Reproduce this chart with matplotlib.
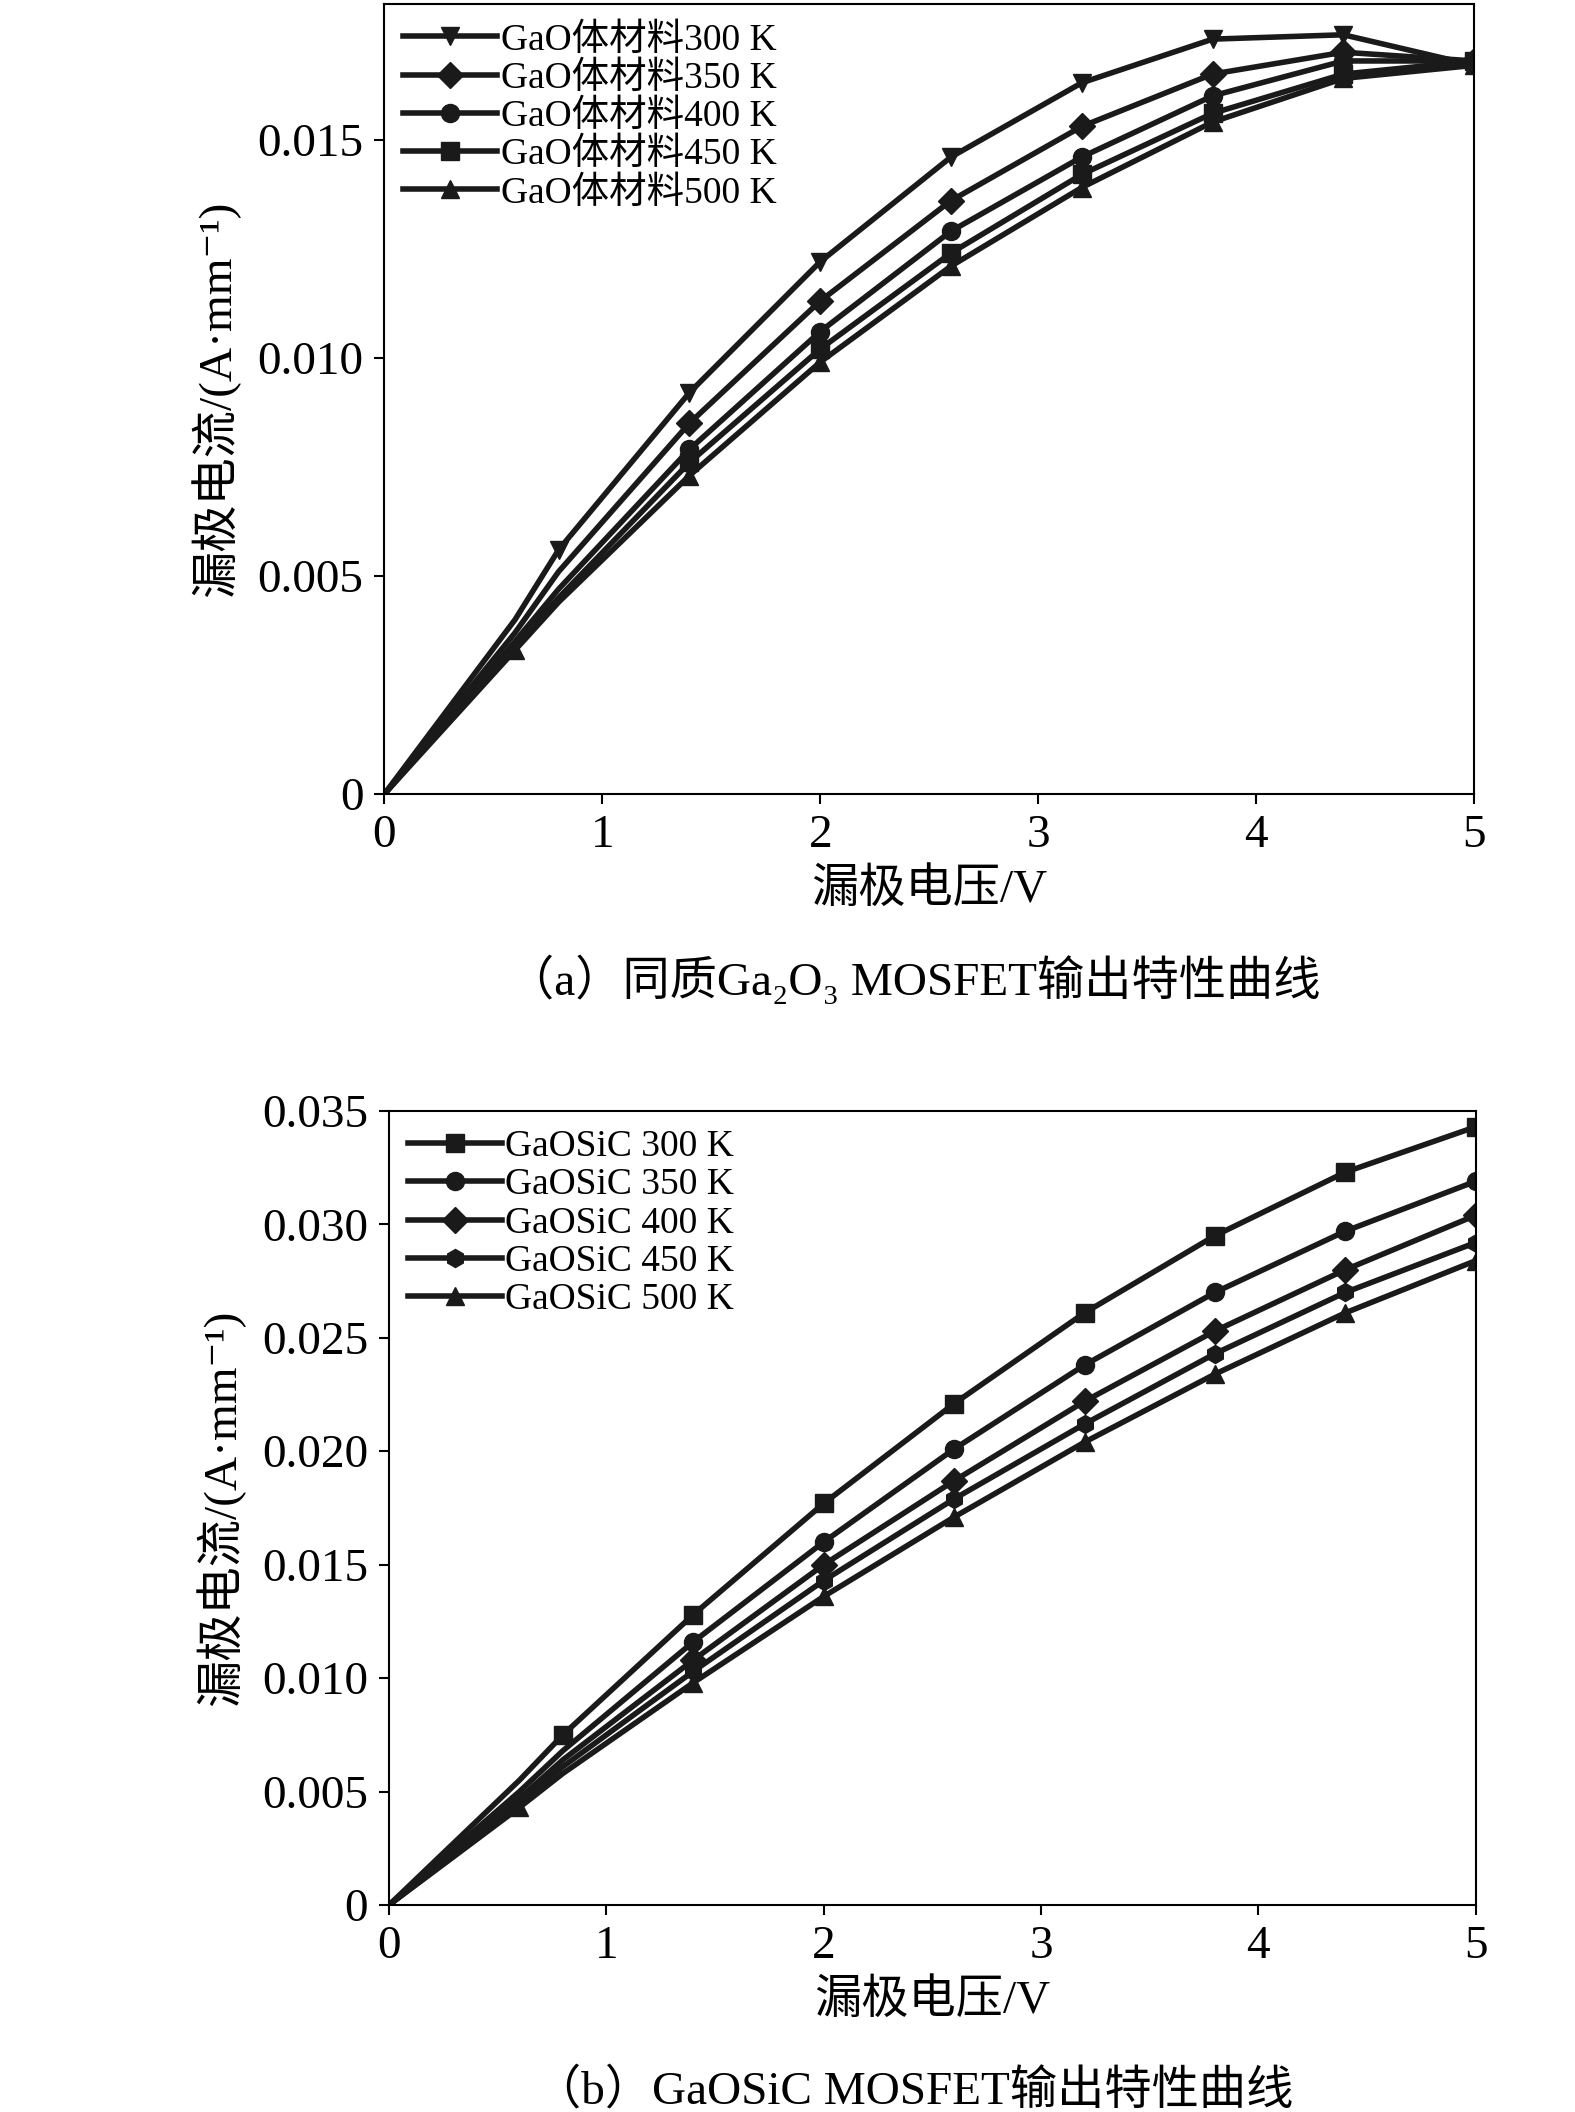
import matplotlib
matplotlib.use("Agg")
import matplotlib.pyplot as plt

plt.rcParams['font.family'] = ['Liberation Serif', 'Noto Sans CJK SC', 'DejaVu Serif']

xa = [0, 0.6, 0.8, 1.4, 2.0, 2.6, 3.2, 3.8, 4.4, 5.0]
labels_a = ["GaO体材料300 K", "GaO体材料350 K", "GaO体材料400 K", "GaO体材料450 K", "GaO体材料500 K"]
a300 = [0, 0.0040, 0.0056, 0.0092, 0.0122, 0.0146, 0.0163, 0.0173, 0.0174, 0.0167]
a350 = [0, 0.0037, 0.0051, 0.0085, 0.0113, 0.0136, 0.0153, 0.0165, 0.0170, 0.0168]
a400 = [0, 0.0035, 0.0047, 0.0079, 0.0106, 0.0129, 0.0146, 0.0160, 0.0168, 0.0168]
a450 = [0, 0.0034, 0.0045, 0.0076, 0.0102, 0.0124, 0.0142, 0.0156, 0.0165, 0.0168]
a500 = [0, 0.0033, 0.0044, 0.0073, 0.0099, 0.0121, 0.0139, 0.0154, 0.0164, 0.0167]
markers_a = ['v', 'D', 'o', 's', '^']

labels_b = ["GaOSiC 300 K", "GaOSiC 350 K", "GaOSiC 400 K", "GaOSiC 450 K", "GaOSiC 500 K"]
b300 = [0, 0.0055, 0.0075, 0.0128, 0.0177, 0.0221, 0.0261, 0.0295, 0.0323, 0.0343]
b350 = [0, 0.0050, 0.0068, 0.0116, 0.0160, 0.0201, 0.0238, 0.0270, 0.0297, 0.0319]
b400 = [0, 0.0047, 0.0064, 0.0108, 0.0150, 0.0187, 0.0222, 0.0253, 0.0280, 0.0304]
b450 = [0, 0.0045, 0.0061, 0.0103, 0.0143, 0.0179, 0.0212, 0.0243, 0.0270, 0.0292]
b500 = [0, 0.0043, 0.0058, 0.0098, 0.0136, 0.0171, 0.0204, 0.0234, 0.0261, 0.0284]
markers_b = ['s', 'o', 'D', 'h', '^']

fig = plt.figure(figsize=(15.75, 21.12), dpi=100)

def panel(rect, ys, labels, markers, ylim, yticks, yticklabels, caption, capy):
    ax = fig.add_axes(rect)
    for i, (y, lab, m) in enumerate(zip(ys, labels, markers)):
        me = [1, 3, 4, 5, 6, 7, 8, 9] if i == 4 else [2, 3, 4, 5, 6, 7, 8, 9]
        if i in (1, 2, 3):
            me = [3, 4, 5, 6, 7, 8, 9]
        ax.plot(xa, y, color='#1a1a1a', lw=4, marker=m, markersize=13, label=lab,
                markevery=me)
    ax.set_xlim(0, 5)
    ax.set_ylim(*ylim)
    ax.set_xticks([0, 1, 2, 3, 4, 5])
    ax.set_yticks(yticks)
    ax.set_yticklabels(yticklabels)
    ax.tick_params(labelsize=34, direction='out', length=7, width=1.5, pad=8)
    for s in ax.spines.values():
        s.set_linewidth(1.5)
    ax.set_xlabel("漏极电压/V", fontsize=34, labelpad=8)
    ax.set_ylabel("漏极电流/(A·mm⁻¹)", fontsize=34, labelpad=12)
    ax.legend(loc='upper left', fontsize=27, frameon=False, handlelength=2.5,
              borderaxespad=0.1, labelspacing=0.1, handletextpad=0.1)
    fig.text(0.58, capy, caption, ha='center', va='center', fontsize=34)

panel([0.244, 0.624, 0.692, 0.374], [a300, a350, a400, a450, a500], labels_a, markers_a,
      (0, 0.0181), [0, 0.005, 0.010, 0.015], ['0', '0.005', '0.010', '0.015'],
      "（a）同质Ga₂O₃ MOSFET输出特性曲线", 0.536)
panel([0.247, 0.098, 0.690, 0.376], [b300, b350, b400, b450, b500], labels_b, markers_b,
      (0, 0.035), [0, 0.005, 0.010, 0.015, 0.020, 0.025, 0.030, 0.035],
      ['0', '0.005', '0.010', '0.015', '0.020', '0.025', '0.030', '0.035'],
      "（b）GaOSiC MOSFET输出特性曲线", 0.010)

fig.savefig("out.png", dpi=100)
